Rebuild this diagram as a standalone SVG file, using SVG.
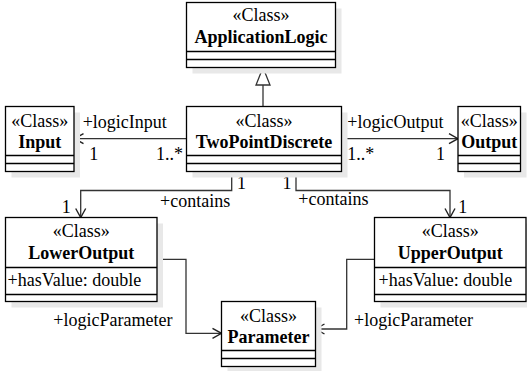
<svg xmlns="http://www.w3.org/2000/svg" width="527" height="371" viewBox="0 0 527 371">
  <style>
    text { font-family: "Liberation Serif", "Times New Roman", serif; font-size: 18px; fill: #000; }
    .c { text-anchor: middle; }
    .b { font-weight: bold; }
    .shadow { fill: #e8e8e8; stroke: none; }
    .box { fill: #fff; stroke: #000; stroke-width: 1.3; }
    .sep { stroke: #000; stroke-width: 1.3; fill: none; }
    .edge { fill: none; stroke: #333; stroke-width: 1.3; }
  </style>
  <defs>
    <!-- open navigability arrowhead -->
    <marker id="open" markerUnits="userSpaceOnUse" markerWidth="14" markerHeight="14" refX="10" refY="6" orient="auto">
      <path d="M1,1 L10,6 L1,11" fill="none" stroke="#222" stroke-width="1.4"/>
    </marker>
  </defs>

  <!-- connectors -->
  <g id="connectors">
    <path class="edge" d="M263,106.5 V85"/>
    <polygon points="263,67.5 256,85 270,85" fill="#fff" stroke="#333" stroke-width="1.3"/>
    <path class="edge" d="M186.5,138.7 H74.5" marker-end="url(#open)"/>
    <path class="edge" d="M341.5,138.7 H458" marker-end="url(#open)"/>
    <path class="edge" d="M231.7,171.5 V190.5 H80.7 V217.5" marker-end="url(#open)"/>
    <path class="edge" d="M296,171.5 V190.5 H450 V217.5" marker-end="url(#open)"/>
    <path class="edge" d="M157,259.3 H186 V333.3 H221.5" marker-end="url(#open)"/>
    <path class="edge" d="M374.5,259.3 H346.7 V329 H315.5" marker-end="url(#open)"/>

    <text x="82.7" y="128.3">+logicInput</text>
    <text x="89.3" y="160">1</text>
    <text x="156" y="160">1..*</text>
    <text x="347.3" y="128.3">+logicOutput</text>
    <text x="347.3" y="160">1..*</text>
    <text x="436" y="160">1</text>
    <text x="237" y="189">1</text>
    <text x="282.5" y="189">1</text>
    <text x="61.7" y="212.5">1</text>
    <text x="458.3" y="213">1</text>
    <text x="160" y="207">+contains</text>
    <text x="298.3" y="205">+contains</text>
    <text x="53.3" y="325.5">+logicParameter</text>
    <text x="354" y="325.5">+logicParameter</text>
  </g>

  <g id="ApplicationLogic">
    <rect class="shadow" x="192.5" y="8.5" width="149" height="65"/>
    <rect class="box" x="186.5" y="2.5" width="149" height="65"/>
    <path class="sep" d="M186.5,51.5 H335.5 M186.5,59.5 H335.5"/>
    <text class="c" x="261" y="21">«Class»</text>
    <text class="c b" x="261" y="43">ApplicationLogic</text>
  </g>

  <g id="TwoPointDiscrete">
    <rect class="shadow" x="192.5" y="112.5" width="155" height="65"/>
    <rect class="box" x="186.5" y="106.5" width="155" height="65"/>
    <path class="sep" d="M186.5,155.5 H341.5 M186.5,163.5 H341.5"/>
    <text class="c" x="264" y="126.5">«Class»</text>
    <text class="c b" x="264" y="148">TwoPointDiscrete</text>
  </g>

  <g id="Input">
    <rect class="shadow" x="11.5" y="112.5" width="68.5" height="65"/>
    <rect class="box" x="5.5" y="106.5" width="68.5" height="65"/>
    <path class="sep" d="M5.5,155.5 H74 M5.5,163.5 H74"/>
    <text class="c" x="39.75" y="126.5">«Class»</text>
    <text class="c b" x="39.75" y="148">Input</text>
  </g>

  <g id="Output">
    <rect class="shadow" x="464" y="112.5" width="62.5" height="65"/>
    <rect class="box" x="458" y="106.5" width="62.5" height="65"/>
    <path class="sep" d="M458,155.5 H520.5 M458,163.5 H520.5"/>
    <text class="c" x="489.25" y="126.5">«Class»</text>
    <text class="c b" x="489.25" y="148">Output</text>
  </g>

  <g id="LowerOutput">
    <rect class="shadow" x="11.5" y="223.5" width="151.5" height="84"/>
    <rect class="box" x="5.5" y="217.5" width="151.5" height="84"/>
    <path class="sep" d="M5.5,267.5 H157 M5.5,294.5 H157"/>
    <text class="c" x="81.25" y="237">«Class»</text>
    <text class="c b" x="81.25" y="258.5">LowerOutput</text>
    <text x="7.5" y="286">+hasValue: double</text>
  </g>

  <g id="UpperOutput">
    <rect class="shadow" x="380.5" y="223.5" width="151.5" height="84"/>
    <rect class="box" x="374.5" y="217.5" width="151.5" height="84"/>
    <path class="sep" d="M374.5,267.5 H526 M374.5,294.5 H526"/>
    <text class="c" x="450.25" y="237">«Class»</text>
    <text class="c b" x="450.25" y="258.5">UpperOutput</text>
    <text x="378.5" y="286">+hasValue: double</text>
  </g>

  <g id="Parameter">
    <rect class="shadow" x="227.5" y="307.5" width="94" height="65"/>
    <rect class="box" x="221.5" y="301.5" width="94" height="65"/>
    <path class="sep" d="M221.5,350.5 H315.5 M221.5,358.5 H315.5"/>
    <text class="c" x="268.5" y="321.5">«Class»</text>
    <text class="c b" x="268.5" y="342.5">Parameter</text>
  </g>
</svg>
